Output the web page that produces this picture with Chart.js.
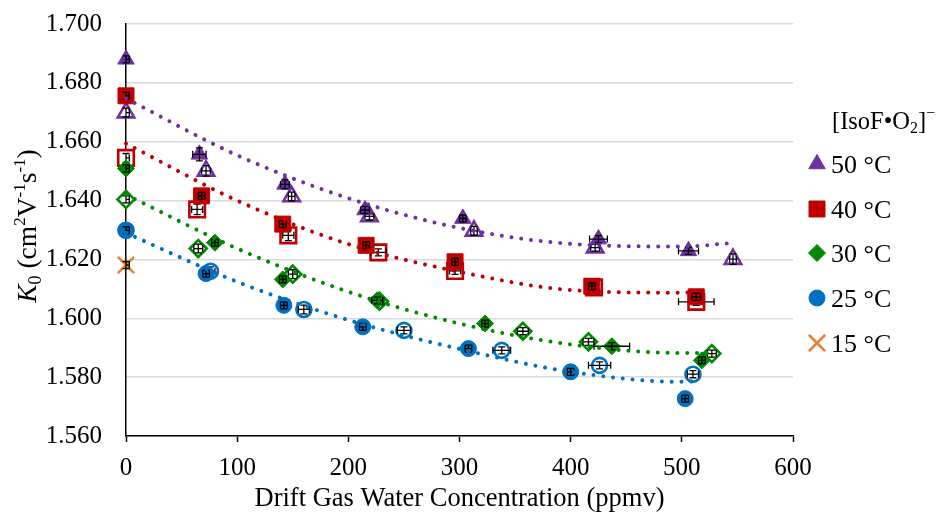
<!DOCTYPE html>
<html><head><meta charset="utf-8">
<script src="https://cdn.jsdelivr.net/npm/chart.js@4.4.1/dist/chart.umd.min.js"></script>
<style>html,body{margin:0;padding:0;background:#fff;}#wrap{width:939px;height:512px;position:relative;}</style>
</head><body><div id="wrap"><canvas id="c" width="939" height="512"></canvas></div>
<script>
// ---- axis ticks ----
const xTickValues = [0, 100, 200, 300, 400, 500, 600];
const yTickValues = [1.560, 1.580, 1.600, 1.620, 1.640, 1.660, 1.680, 1.700];
const legendLabels = ['50 °C', '40 °C', '30 °C', '25 °C', '15 °C'];

// ---- 50 °C ----
const t50fX = [0, 66, 143, 215, 303, 425, 506];
const t50fY = [1.6880, 1.6557, 1.6455, 1.6368, 1.6339, 1.6269, 1.6229];
const t50fXe = [3, 6, 4, 4, 3, 8, 9];
const t50fYe = [0.0012, 0.0022, 0.0015, 0.0012, 0.0012, 0.0012, 0.0012];
const t50hX = [0, 72, 149, 219, 313, 422, 546];
const t50hY = [1.6699, 1.6501, 1.6414, 1.6346, 1.6297, 1.6240, 1.6201];
const t50hXe = [3, 4, 3, 4, 3, 4, 3];
const t50hYe = [0.0015, 0.0018, 0.0015, 0.0012, 0.0015, 0.0012, 0.0018];
const t50trendX = [0, 100, 200, 300, 400, 500, 546];
const t50trendY = [1.6747, 1.6554, 1.6408, 1.6307, 1.6253, 1.6244, 1.6256];

// ---- 40 °C ----
const t40fX = [0, 68, 141, 216, 296, 419, 513];
const t40fY = [1.6756, 1.6416, 1.6320, 1.6248, 1.6192, 1.6109, 1.6073];
const t40fXe = [3, 3, 3, 3, 3, 3, 4];
const t40fYe = [0.0012, 0.0012, 0.0012, 0.0012, 0.0012, 0.0012, 0.0012];
const t40hX = [0, 64, 146, 227, 296, 421, 513];
const t40hY = [1.6545, 1.6370, 1.6282, 1.6224, 1.6161, 1.6105, 1.6056];
const t40hXe = [3, 5, 5, 7, 5, 3, 16];
const t40hYe = [0.0015, 0.0018, 0.0018, 0.0012, 0.0012, 0.0012, 0.0012];
const t40trendX = [0, 100, 200, 300, 400, 500, 513];
const t40trendY = [1.6594, 1.6400, 1.6252, 1.6158, 1.6096, 1.6087, 1.6090];

// ---- 30 °C ----
const t30fX = [0, 80, 141, 226, 323, 437, 518];
const t30fY = [1.6509, 1.6257, 1.6132, 1.6061, 1.5982, 1.5905, 1.5857];
const t30fXe = [3, 3, 3, 5, 3, 16, 3];
const t30fYe = [0.0012, 0.0012, 0.0012, 0.0012, 0.0012, 0.0012, 0.0012];
const t30hX = [0, 65, 150, 228, 357, 416, 527];
const t30hY = [1.6404, 1.6237, 1.6150, 1.6058, 1.5956, 1.5920, 1.5880];
const t30hXe = [3, 4, 4, 4, 5, 5, 4];
const t30hYe = [0.0012, 0.0015, 0.0015, 0.0012, 0.0012, 0.0012, 0.0012];
const t30trendX = [0, 100, 200, 300, 400, 500, 527];
const t30trendY = [1.6420, 1.6237, 1.6090, 1.5982, 1.5911, 1.5882, 1.5882];

// ---- 25 °C ----
const t25fX = [0, 72, 142, 213, 308, 400, 503];
const t25fY = [1.6299, 1.6152, 1.6044, 1.5971, 1.5897, 1.5818, 1.5727];
const t25fXe = [3, 3, 3, 3, 3, 3, 3];
const t25fYe = [0.0012, 0.0012, 0.0012, 0.0012, 0.0012, 0.0012, 0.0012];
const t25hX = [0, 76, 160, 250, 338, 426, 510];
const t25hY = [1.6299, 1.6160, 1.6030, 1.5959, 1.5891, 1.5840, 1.5810];
const t25hXe = [3, 4, 5, 6, 8, 10, 5];
const t25hYe = [0.0012, 0.0015, 0.0015, 0.0012, 0.0012, 0.0012, 0.0012];
const t25trendX = [0, 100, 200, 300, 400, 500, 510];
const t25trendY = [1.6290, 1.6124, 1.5994, 1.5896, 1.5818, 1.5784, 1.5785];

// ---- 15 °C ----
const t15X = [0];
const t15Y = [1.6181];
const t15Xe = [3];
const t15Ye = [0.0012];

const SERIF = '"Liberation Serif", "Times New Roman", serif';
const C50 = '#7030A0', C40 = '#C00000', C30 = '#008A00', C25 = '#0070C0', C15 = '#ED7D31';

function pts(xs, ys) { return xs.map((x, i) => ({x: x, y: ys[i]})); }

function markerSet(label, xs, ys, xe, ye, style, radius, color, hollow, order, legend) {
  const isCross = style === 'crossRot';
  return {
    label: label, data: pts(xs, ys), xErr: xe, yErr: ye, legendItem: legend,
    pointStyle: style, pointRadius: radius, pointHoverRadius: radius,
    backgroundColor: hollow ? '#ffffff' : color, borderColor: color,
    pointBorderWidth: (hollow || isCross) ? 2.6 : 1, showLine: false, order: order, clip: false
  };
}
function trendSet(label, xs, ys, color) {
  return {
    label: label, data: pts(xs, ys), showLine: true, pointRadius: 0, pointHoverRadius: 0,
    borderColor: color, backgroundColor: color, borderWidth: 4, borderDash: [0.01, 9.8],
    borderCapStyle: 'round', cubicInterpolationMode: 'monotone', order: 0, clip: false, fill: false
  };
}

const datasets = [
  trendSet('trend 50', t50trendX, t50trendY, C50),
  trendSet('trend 40', t40trendX, t40trendY, C40),
  trendSet('trend 30', t30trendX, t30trendY, C30),
  trendSet('trend 25', t25trendX, t25trendY, C25),
  markerSet('15 °C', t15X, t15Y, t15Xe, t15Ye, 'crossRot', 11.5, C15, false, 1, 4),
  markerSet('25 °C', t25fX, t25fY, t25fXe, t25fYe, 'circle', 8, C25, false, 2, 3),
  markerSet('25 °C b', t25hX, t25hY, t25hXe, t25hYe, 'circle', 7.5, C25, true, 3, null),
  markerSet('30 °C', t30fX, t30fY, t30fXe, t30fYe, 'rectRot', 8.5, C30, false, 4, 2),
  markerSet('30 °C b', t30hX, t30hY, t30hXe, t30hYe, 'rectRot', 8.5, C30, true, 5, null),
  markerSet('40 °C', t40fX, t40fY, t40fXe, t40fYe, 'rect', 11.3, C40, false, 6, 1),
  markerSet('40 °C b', t40hX, t40hY, t40hXe, t40hYe, 'rect', 11, C40, true, 7, null),
  markerSet('50 °C', t50fX, t50fY, t50fXe, t50fYe, 'triangle', 9.5, C50, false, 8, 0),
  markerSet('50 °C b', t50hX, t50hY, t50hXe, t50hYe, 'triangle', 9.5, C50, true, 9, null)
];

const errorBars = {
  id: 'errorBars',
  afterDatasetDraw(chart, args) {
    const ds = chart.data.datasets[args.index];
    if (!ds.xErr) return;
    const xs = chart.scales.x, ys = chart.scales.y, ctx = chart.ctx, cap = 3.5;
    ctx.save();
    ctx.strokeStyle = '#000'; ctx.lineWidth = 1.3;
    ds.data.forEach((p, i) => {
      const cx = xs.getPixelForValue(p.x), cy = ys.getPixelForValue(p.y);
      const x1 = xs.getPixelForValue(Math.max(0, p.x - ds.xErr[i]));
      const x2 = xs.getPixelForValue(p.x + ds.xErr[i]);
      const y1 = ys.getPixelForValue(p.y - ds.yErr[i]);
      const y2 = ys.getPixelForValue(p.y + ds.yErr[i]);
      ctx.beginPath();
      ctx.moveTo(x1, cy); ctx.lineTo(x2, cy);
      if (p.x - ds.xErr[i] > 0) { ctx.moveTo(x1, cy - cap); ctx.lineTo(x1, cy + cap); }
      ctx.moveTo(x2, cy - cap); ctx.lineTo(x2, cy + cap);
      ctx.moveTo(cx, y1); ctx.lineTo(cx, y2);
      ctx.moveTo(cx - cap, y1); ctx.lineTo(cx + cap, y1);
      ctx.moveTo(cx - cap, y2); ctx.lineTo(cx + cap, y2);
      ctx.stroke();
    });
    ctx.restore();
  }
};

function drawRuns(ctx, runs, startX, baseY) {
  let x = startX;
  runs.forEach(r => {
    ctx.font = (r[1] || '') + ' ' + r[2] + 'px ' + SERIF;
    ctx.fillText(r[0], x, baseY + r[3]);
    x += ctx.measureText(r[0]).width;
  });
  return x;
}
function runsWidth(ctx, runs) {
  let w = 0;
  runs.forEach(r => { ctx.font = (r[1] || '') + ' ' + r[2] + 'px ' + SERIF; w += ctx.measureText(r[0]).width; });
  return w;
}

const extras = {
  id: 'extras',
  afterDraw(chart) {
    const ctx = chart.ctx;
    ctx.save();
    ctx.fillStyle = '#000';
    ctx.textBaseline = 'alphabetic';
    // y axis title
    const yRuns = [['K', 'italic', 27.5, 0], ['0', '', 18, 5], [' (cm', '', 27.5, 0], ['2', '', 17, -11],
                   ['V', '', 27.5, 0], ['-1', '', 17, -11], ['s', '', 27.5, 0], ['-1', '', 17, -11], [')', '', 27.5, 0]];
    ctx.save();
    ctx.translate(36, 226);
    ctx.rotate(-Math.PI / 2);
    drawRuns(ctx, yRuns, -runsWidth(ctx, yRuns) / 2, 0);
    ctx.restore();
    // legend
    const lx = 817, tx = 831;
    drawRuns(ctx, [['[IsoF•O', '', 24.5, 0], ['2', '', 16, 4], [']', '', 24.5, 0], ['−', '', 16, -11]], 832, 129);
    const rowY = [164, 209, 253, 298, 343];
    chart.data.datasets.forEach(ds => {
      if (ds.legendItem === null || ds.legendItem === undefined) return;
      const k = ds.legendItem, y = rowY[k];
      ctx.fillStyle = ds.backgroundColor; ctx.strokeStyle = ds.borderColor;
      ctx.lineWidth = ds.pointStyle === 'crossRot' ? 2.8 : 1;
      Chart.helpers.drawPoint(ctx, {pointStyle: ds.pointStyle, radius: ds.pointRadius, borderWidth: ctx.lineWidth, rotation: 0}, lx, y);
      ctx.fillStyle = '#000';
      ctx.font = '26px ' + SERIF;
      ctx.fillText(legendLabels[k], tx, y + 9);
    });
    ctx.restore();
  }
};

new Chart(document.getElementById('c'), {
  type: 'scatter',
  data: { datasets: datasets },
  plugins: [errorBars, extras],
  options: {
    responsive: false, animation: false, events: [],
    layout: { padding: { left: 0, right: 146, top: 24, bottom: 0 } },
    plugins: { legend: { display: false }, tooltip: { enabled: false } },
    scales: {
      x: {
        type: 'linear', min: 0, max: 600,
        afterBuildTicks: s => { s.ticks = xTickValues.map(v => ({value: v})); },
        afterFit: s => { s.height = 76; s.paddingLeft = 0; s.paddingRight = 0; },
        grid: { drawOnChartArea: false, drawTicks: true, tickLength: 6, tickColor: '#000', tickWidth: 1.5 },
        border: { display: true, color: '#000', width: 1.5 },
        ticks: { color: '#000', padding: 11, font: { family: SERIF, size: 25 }, maxRotation: 0 },
        title: { display: true, text: 'Drift Gas Water Concentration (ppmv)', color: '#000',
                 font: { family: SERIF, size: 26.5 }, padding: { top: 0, bottom: -3 } }
      },
      y: {
        type: 'linear', min: 1.56, max: 1.70,
        afterBuildTicks: s => { s.ticks = yTickValues.map(v => ({value: v})); },
        afterFit: s => { s.width = 126; s.paddingTop = 0; s.paddingBottom = 0; },
        grid: { color: '#d9d9d9', lineWidth: 1.5, drawTicks: false },
        border: { display: true, color: '#000', width: 1.5 },
        ticks: { color: '#000', padding: 24, font: { family: SERIF, size: 25 },
                 callback: v => Number(v).toFixed(3) }
      }
    }
  }
});
</script></body></html>
